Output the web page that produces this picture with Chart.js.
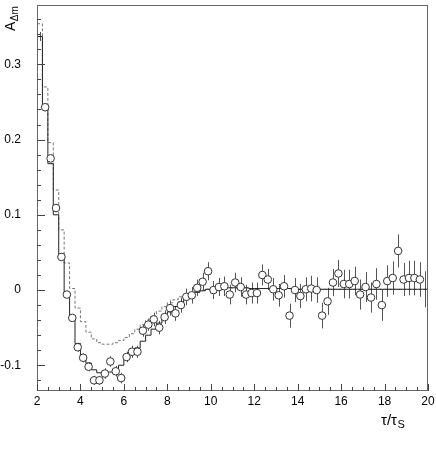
<!DOCTYPE html>
<html><head><meta charset="utf-8">
<script src="https://cdn.jsdelivr.net/npm/chart.js@4.4.0/dist/chart.umd.min.js"></script>
<style>html,body{margin:0;padding:0;background:#fff;}canvas{display:block;}</style>
</head><body>
<canvas id="c" width="436" height="465"></canvas>
<script>
// ---- data ----
const tau = [2.125,2.375,2.625,2.875,3.125,3.375,3.625,3.875,4.125,4.375,4.625,4.875,5.125,5.375,5.625,5.875,
  6.125,6.375,6.625,6.875,7.125,7.375,7.625,7.875,8.125,8.375,8.625,8.875,9.125,9.375,9.625,9.875,
  10.125,10.375,10.625,10.875,11.125,11.375,11.625,11.875,12.125,12.375,12.625,12.875,13.125,13.375,13.625,13.875,
  14.125,14.375,14.625,14.875,15.125,15.375,15.625,15.875,16.125,16.375,16.625,16.875,17.125,17.375,17.625,17.875,
  18.125,18.375,18.625,18.875,19.125,19.375,19.625,19.875];
const asym = [0.337,0.243,0.175,0.109,0.044,-0.006,-0.037,-0.076,-0.090,-0.102,-0.120,-0.120,-0.111,-0.095,-0.108,-0.117,
  -0.089,-0.082,-0.082,-0.054,-0.046,-0.039,-0.050,-0.036,-0.024,-0.031,-0.020,-0.009,-0.007,0.003,0.011,0.025,
  0.000,0.004,0.005,-0.006,0.010,0.004,-0.006,-0.004,-0.004,0.020,0.014,0.001,-0.007,0.005,-0.034,0.000,
  -0.008,0.001,0.002,0.000,-0.034,-0.015,0.010,0.022,0.008,0.008,0.012,-0.006,0.004,-0.010,0.008,-0.020,
  0.012,0.016,0.052,0.014,0.016,0.016,0.014,0.001];
const asymErr = [0.006,0.005,0.005,0.005,0.005,0.005,0.005,0.006,0.006,0.006,0.006,0.006,0.007,0.007,0.007,0.007,
  0.007,0.008,0.008,0.008,0.008,0.009,0.009,0.009,0.010,0.010,0.010,0.011,0.011,0.011,0.012,0.012,
  0.012,0.012,0.013,0.013,0.013,0.013,0.013,0.014,0.014,0.014,0.014,0.015,0.015,0.015,0.016,0.016,
  0.016,0.016,0.017,0.017,0.017,0.018,0.018,0.018,0.019,0.019,0.019,0.020,0.020,0.020,0.021,0.021,
  0.021,0.022,0.022,0.022,0.023,0.023,0.023,0.024];
const fitSolid = [0.337,0.242,0.168,0.100,0.043,-0.006,-0.036,-0.071,-0.087,-0.097,-0.106,-0.110,-0.111,-0.109,-0.105,-0.100,
  -0.092,-0.085,-0.077,-0.068,-0.060,-0.052,-0.044,-0.036,-0.029,-0.022,-0.016,-0.011,-0.007,-0.003,-0.001,0.001,
  0.002,0.002,0.003,0.003,0.003,0.003,0.003,0.002,0.002,0.002,0.002,0.002,0.002,0.002,0.002,0.001,
  0.001,0.001,0.001,0.001,0.001,0.001,0.001,0.001,0.001,0.001,0.001,0.001,0.001,0.001,0.001,0.001,
  0.001,0.001,0.001,0.001,0.001,0.001,0.001,0.001];
const fitDashed = [0.354,0.270,0.196,0.133,0.080,0.036,0.002,-0.024,-0.042,-0.056,-0.065,-0.070,-0.072,-0.072,-0.070,-0.067,
  -0.063,-0.058,-0.052,-0.046,-0.040,-0.034,-0.028,-0.022,-0.017,-0.013,-0.009,-0.006,-0.004,-0.002,0.000,0.001,
  0.002,0.002,0.003,0.003,0.003,0.003,0.003,0.002,0.002,0.002,0.002,0.002,0.002,0.002,0.002,0.001,
  0.001,0.001,0.001,0.001,0.001,0.001,0.001,0.001,0.001,0.001,0.001,0.001,0.001,0.001,0.001,0.001,
  0.001,0.001,0.001,0.001,0.001,0.001,0.001,0.001];
const xTickValues = [2,4,6,8,10,12,14,16,18,20];
const xTickLabels = ['2','4','6','8','10','12','14','16','18','20'];
const yTickValues = [-0.1,0,0.1,0.2,0.3];
const yTickLabels = ['-0.1','0','0.1','0.2','0.3'];
const xTitle = ['τ/τ','S'];
const yTitle = ['A','Δm'];

// ---- derived structures ----
const edges = tau.map((t,i)=> i===0 ? t-(tau[1]-tau[0])/2 : (tau[i-1]+t)/2);
edges.push(tau[tau.length-1] + (tau[tau.length-1]-tau[tau.length-2])/2);
function stepData(vals){
  const d = vals.map((v,i)=>({x:edges[i], y:v}));
  d.push({x:edges[edges.length-1], y:vals[vals.length-1]});
  return d;
}
const FONT = "'Liberation Sans', Arial, Helvetica, sans-serif";

const decor = {
  id:'decor',
  beforeDatasetsDraw(chart){
    const {ctx, chartArea:a, scales:{x,y}} = chart;
    ctx.save();
    ctx.beginPath(); ctx.rect(a.left,a.top,a.right-a.left,a.bottom-a.top); ctx.clip();
    ctx.strokeStyle='#555'; ctx.lineWidth=1;
    tau.forEach((t,i)=>{
      const px = Math.round(x.getPixelForValue(t))+0.5;
      ctx.beginPath();
      ctx.moveTo(px, y.getPixelForValue(asym[i]+asymErr[i]));
      ctx.lineTo(px, y.getPixelForValue(asym[i]-asymErr[i]));
      ctx.stroke();
    });
    ctx.restore();
  },
  afterDraw(chart){
    const {ctx, chartArea:a, scales:{x,y}} = chart;
    ctx.save();
    ctx.strokeStyle='#666'; ctx.lineWidth=1;
    ctx.strokeRect(a.left+0.5, a.top+0.5, a.right-a.left-1, a.bottom-a.top-1);
    ctx.strokeStyle='#444';
    for(let v=x.min; v<=x.max+1e-9; v+=0.5){
      const px = Math.round(x.getPixelForValue(v))+0.5;
      const major = Math.abs(v/2-Math.round(v/2))<1e-6;
      ctx.beginPath(); ctx.moveTo(px,a.bottom); ctx.lineTo(px,a.bottom-(major?7:4)); ctx.stroke();
    }
    for(let k=-6; k<=18; k++){
      const v = k*0.02;
      if(v<y.min||v>y.max) continue;
      const py = Math.round(y.getPixelForValue(v))+0.5;
      const major = (k%5===0);
      ctx.beginPath(); ctx.moveTo(a.left,py); ctx.lineTo(a.left+(major?8:4),py); ctx.stroke();
    }
    ctx.fillStyle='#000';
    ctx.textBaseline='alphabetic'; ctx.textAlign='left';
    ctx.font = '15px '+FONT;
    const w1 = ctx.measureText(xTitle[0]).width;
    ctx.fillText(xTitle[0], 397 - w1, 425);
    ctx.font = '11px '+FONT;
    ctx.fillText(xTitle[1], 397.5, 428);
    ctx.save();
    ctx.translate(15, 31); ctx.rotate(-Math.PI/2);
    ctx.font = '14px '+FONT;
    ctx.fillText(yTitle[0], 0, 0);
    const wa = ctx.measureText(yTitle[0]).width;
    ctx.font = '10px '+FONT;
    ctx.fillText(yTitle[1], wa+0.5, 3);
    ctx.restore();
    ctx.restore();
  }
};

new Chart(document.getElementById('c'), {
  type:'line',
  data:{
    datasets:[
      {type:'scatter', data: tau.map((t,i)=>({x:t,y:asym[i]})), showLine:false,
       pointStyle:'circle', pointRadius: c => (c.dataIndex===0||c.dataIndex===tau.length-1)?0:3.8,
       pointBorderColor:'#333', pointBackgroundColor:'#fff', pointBorderWidth:1, order:0},
      {data: stepData(fitSolid), stepped:true, borderColor:'#222', borderWidth:1, pointRadius:0, fill:false, order:1},
      {data: stepData(fitDashed), stepped:true, borderColor:'#777', borderWidth:1, borderDash:[3,2], pointRadius:0, fill:false, order:2}
    ]
  },
  options:{
    responsive:false, animation:false, devicePixelRatio:1,
    layout:{padding:{left:0, top:2, right:8, bottom:0}},
    plugins:{legend:{display:false}, tooltip:{enabled:false}},
    scales:{
      x:{type:'linear', min:2, max:20,
         afterBuildTicks: s => { s.ticks = xTickValues.map(v=>({value:v})); },
         afterFit: s => { s.height = 74; s.paddingLeft = 0; s.paddingRight = 0; },
         ticks:{callback:(v,i)=>xTickLabels[i], font:{family:FONT,size:12}, color:'#000', padding:3, maxRotation:0, autoSkip:false},
         grid:{display:false, drawTicks:false}, border:{display:false}},
      y:{type:'linear', min:-0.1342, max:0.3789,
         afterBuildTicks: s => { s.ticks = yTickValues.map(v=>({value:v})); },
         afterFit: s => { s.width = 37; s.paddingTop = 0; s.paddingBottom = 0; },
         ticks:{callback:(v,i)=>yTickLabels[i], font:{family:FONT,size:12}, color:'#000', padding:16, autoSkip:false},
         grid:{display:false, drawTicks:false}, border:{display:false}}
    }
  },
  plugins:[decor]
});
</script>
</body></html>
